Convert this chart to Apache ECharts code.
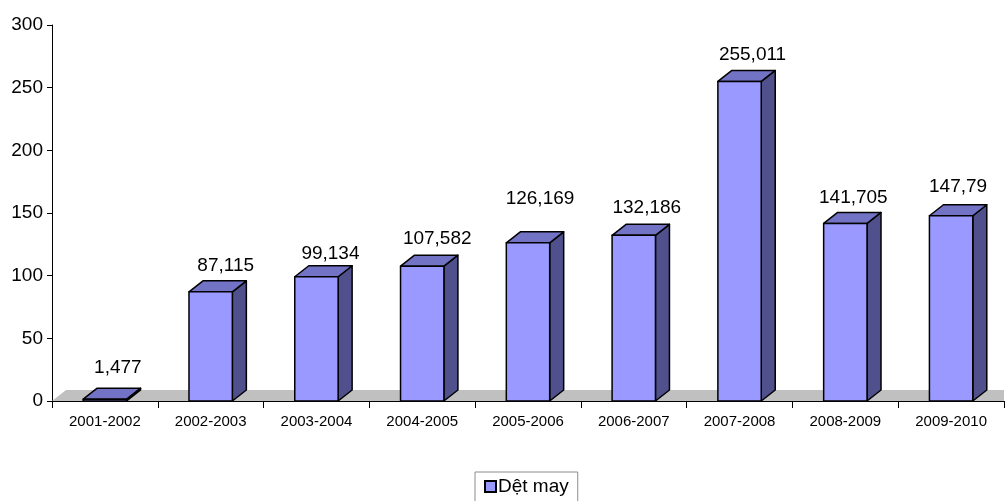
<!DOCTYPE html>
<html>
<head>
<meta charset="utf-8">
<script src="https://cdn.jsdelivr.net/npm/echarts@6/dist/echarts.min.js"></script>
<style>
  html, body { margin: 0; padding: 0; background: #fff; }
  #chart { width: 1005px; height: 501px; }
</style>
</head>
<body>
<div id="chart"></div>
<script>
// Textile & garment figures per fiscal year
const categories = ['2001-2002', '2002-2003', '2003-2004', '2004-2005', '2005-2006',
                    '2006-2007', '2007-2008', '2008-2009', '2009-2010'];
const values = [1.477, 87.115, 99.134, 107.582, 126.169, 132.186, 255.011, 141.705, 147.79];
const seriesName = 'Dệt may';
const yTicks = { min: 0, max: 300, interval: 50 };

// Layout: where each value label sits relative to its bar (pixels right / above the front top)
const labelLayout = {
  dx: [13, 15, 14, 15, 12, 13, 13, 8, 7],
  lift: [31, 26, 23, 27, 44, 28, 27, 26, 29]
};

const FONT = '"Liberation Sans", Arial, sans-serif';
const DEPTH_X = 14;   // oblique depth of the 3D boxes
const DEPTH_Y = 11;

// Number label with comma decimal separator
function fmt(v) { return String(v).replace('.', ','); }

// Grey floor strip behind the bars
function renderFloor(params, api) {
  const cs = params.coordSys;
  const y0 = cs.y + cs.height;
  const x0 = cs.x, x1 = cs.x + cs.width;
  return {
    type: 'polygon',
    shape: { points: [[x0, y0], [x0 + DEPTH_X, y0 - DEPTH_Y], [x1, y0 - DEPTH_Y], [x1, y0]] },
    style: { fill: '#C0C0C0' },
    silent: true
  };
}

// One 3D box per category: front face, right side, top and a value label
function renderBar(params, api) {
  const idx = api.value(0);
  const val = api.value(1);
  const base = api.coord([idx, 0]);
  const top = api.coord([idx, val]);
  const band = api.size([1, 0])[0];
  const w = band * 0.41;
  const xl = base[0] - w / 2, xr = base[0] + w / 2;
  const yb = base[1], yt = top[1];
  const stroke = { stroke: '#000', lineWidth: 1.5, lineJoin: 'round' };
  const i = params.dataIndex;
  return {
    type: 'group',
    children: [
      { type: 'polygon',
        shape: { points: [[xr, yb], [xr + DEPTH_X, yb - DEPTH_Y], [xr + DEPTH_X, yt - DEPTH_Y], [xr, yt]] },
        style: Object.assign({ fill: '#50508C' }, stroke) },
      { type: 'polygon',
        shape: { points: [[xl, yt], [xl + DEPTH_X, yt - DEPTH_Y], [xr + DEPTH_X, yt - DEPTH_Y], [xr, yt]] },
        style: Object.assign({ fill: '#7373C6' }, stroke) },
      { type: 'rect',
        shape: { x: xl, y: yt, width: w, height: yb - yt },
        style: Object.assign({ fill: '#9999FF' }, stroke) },
      { type: 'text',
        x: base[0] + labelLayout.dx[i], y: yt - labelLayout.lift[i],
        style: { text: fmt(val), fill: '#000', font: '19px ' + FONT, align: 'center', verticalAlign: 'middle' } }
    ]
  };
}

const chart = echarts.init(document.getElementById('chart'));
chart.setOption({
  animation: false,
  backgroundColor: '#fff',
  grid: { left: 52, right: 1, top: 25, bottom: 100 },
  legend: {
    data: [{ name: seriesName, icon: 'rect' }],
    left: 475, top: 472,
    padding: [5, 9, 8, 9],
    itemWidth: 11, itemHeight: 11,
    borderColor: '#8c8c8c', borderWidth: 1,
    textStyle: { fontSize: 19, color: '#000', fontFamily: FONT, padding: [0, 0, 0, -3] }
  },
  xAxis: {
    type: 'category',
    data: categories,
    boundaryGap: true,
    axisLine: { lineStyle: { color: '#000', width: 1 } },
    axisTick: { show: true, length: 7, lineStyle: { color: '#000' } },
    axisLabel: { color: '#000', fontSize: 15, fontFamily: FONT, margin: 13, interval: 0 },
    splitLine: { show: false }
  },
  yAxis: {
    type: 'value',
    min: yTicks.min, max: yTicks.max, interval: yTicks.interval,
    axisLine: { show: true, lineStyle: { color: '#000', width: 1 } },
    axisTick: { show: true, length: 5, lineStyle: { color: '#000' } },
    axisLabel: { color: '#000', fontSize: 19, fontFamily: FONT, margin: 9 },
    splitLine: { show: false }
  },
  series: [
    {
      type: 'custom',
      name: 'floor',
      renderItem: renderFloor,
      data: [[0, 0]],
      z: 1,
      silent: true
    },
    {
      type: 'custom',
      name: seriesName,
      renderItem: renderBar,
      itemStyle: { color: '#9999FF', borderColor: '#000', borderWidth: 1 },
      data: values.map((v, i) => [i, v]),
      z: 2
    }
  ]
});
</script>
</body>
</html>
